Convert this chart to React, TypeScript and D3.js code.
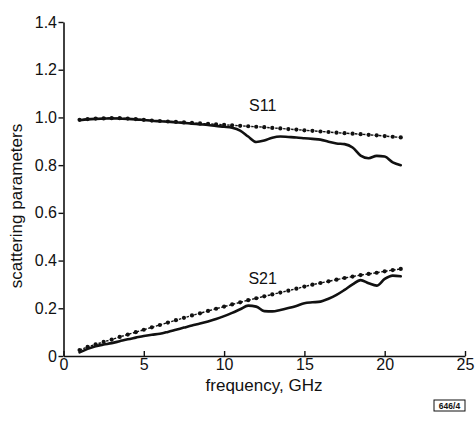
import React, { Component } from 'react';
import * as d3 from 'd3';

const frequency = d3.range(0, 41).map(i => 1 + i * 0.5);

const s11Measured = [
  0.988, 0.992, 0.994, 0.995, 0.996, 0.995, 0.994, 0.992, 0.989, 0.986,
  0.984, 0.982, 0.98, 0.977, 0.974, 0.971, 0.968, 0.964, 0.961, 0.957,
  0.945, 0.92, 0.897, 0.903, 0.915, 0.92, 0.918, 0.916, 0.913, 0.91,
  0.907, 0.898, 0.891, 0.888, 0.874, 0.84, 0.829, 0.839, 0.836, 0.812,
  0.8,
];

const s11Simulated = [
  0.99, 0.993, 0.995, 0.996, 0.997, 0.997, 0.995, 0.993, 0.99, 0.987,
  0.985, 0.983, 0.981, 0.979, 0.977, 0.975, 0.973, 0.971, 0.969, 0.967,
  0.965, 0.963, 0.961, 0.959, 0.956, 0.954, 0.951, 0.949, 0.946, 0.944,
  0.941, 0.939, 0.936, 0.934, 0.932, 0.93, 0.927, 0.925, 0.922, 0.919,
  0.916,
];

const s21Measured = [
  0.015, 0.03, 0.041, 0.048, 0.054, 0.062, 0.07, 0.077, 0.084, 0.089,
  0.093, 0.101, 0.11, 0.119, 0.128, 0.136, 0.145, 0.155, 0.167, 0.181,
  0.196, 0.211, 0.207, 0.188, 0.187, 0.193, 0.201, 0.21, 0.221, 0.225,
  0.228, 0.24, 0.256, 0.277, 0.3, 0.318, 0.305, 0.295, 0.323, 0.337,
  0.334,
];

const s21Simulated = [
  0.025, 0.038, 0.049, 0.059, 0.069, 0.08, 0.09, 0.1, 0.11, 0.12,
  0.13, 0.14, 0.15, 0.16, 0.17, 0.179, 0.189, 0.198, 0.207, 0.216,
  0.225, 0.234, 0.242, 0.25, 0.258, 0.266, 0.274, 0.282, 0.291, 0.299,
  0.306, 0.313, 0.32, 0.327, 0.333, 0.339, 0.344, 0.349, 0.355, 0.36,
  0.365,
];

const xTicks = [0, 5, 10, 15, 20, 25];
const yTicks = [0, 0.2, 0.4, 0.6, 0.8, 1.0, 1.2, 1.4];

const curveLabels = [
  { text: 'S11', f: 12.4, v: 1.025 },
  { text: 'S21', f: 12.4, v: 0.3 },
];

const FONT = '"Liberation Sans", Arial, Helvetica, sans-serif';

export default class App extends Component {
  static defaultProps = {
    width: 475,
    height: 423,
  };

  constructor(props) {
    super(props);
    this.xScale = d3.scaleLinear().domain([0, 25]).range([63.5, 465]);
    this.yScale = d3.scaleLinear().domain([0, 1.4]).range([356, 22]);
  }

  componentDidMount() {
    const xAxis = d3
      .axisBottom(this.xScale)
      .tickValues(xTicks)
      .tickSizeInner(-5)
      .tickSizeOuter(0)
      .tickPadding(2.5);
    const yAxis = d3
      .axisLeft(this.yScale)
      .tickValues(yTicks)
      .tickSizeInner(5)
      .tickSizeOuter(0)
      .tickPadding(1.5)
      .tickFormat(d => (d === 0 ? '0' : d3.format('.1f')(d)));

    const styleAxis = g => {
      g.attr('font-family', FONT).attr('font-size', 16);
      g.selectAll('path').attr('stroke', '#111').attr('stroke-width', 1.6);
      g.selectAll('line').attr('stroke', '#111').attr('stroke-width', 1.4);
      g.selectAll('text').attr('fill', '#111');
    };

    d3.select(this.xAxisG).call(xAxis).call(styleAxis);
    d3.select(this.yAxisG).call(yAxis).call(styleAxis);
  }

  renderSimulated(values, key) {
    const points = frequency.map((f, i) => [this.xScale(f), this.yScale(values[i])]);
    const line = d3.line().curve(d3.curveLinear);
    return (
      <g key={key}>
        <path
          d={line(points)}
          fill="none"
          stroke="#111"
          strokeWidth={1.4}
          strokeDasharray="2.5,1.5"
        />
        {points.map((p, i) =>
          <circle key={i} cx={p[0]} cy={p[1]} r={2.1} fill="#111" />,
        )}
      </g>
    );
  }

  renderMeasured(values, key) {
    const line = d3
      .line()
      .x((d, i) => this.xScale(frequency[i]))
      .y(d => this.yScale(d))
      .curve(d3.curveMonotoneX);
    return (
      <path
        key={key}
        d={line(values)}
        fill="none"
        stroke="#111"
        strokeWidth={2.6}
        strokeLinejoin="round"
        strokeLinecap="round"
      />
    );
  }

  render() {
    const { width, height } = this.props;
    return (
      <svg
        width={width}
        height={height}
        style={{ position: 'absolute', left: 0, top: 0, background: '#fff' }}
      >
        <rect x="0" y="0" width={width} height={height} fill="#fff" />
        {this.renderSimulated(s11Simulated, 's11s')}
        {this.renderSimulated(s21Simulated, 's21s')}
        {this.renderMeasured(s11Measured, 's11m')}
        {this.renderMeasured(s21Measured, 's21m')}
        <g
          ref={g => {
            this.xAxisG = g;
          }}
          transform={`translate(0,${this.yScale(0)})`}
        />
        <g
          ref={g => {
            this.yAxisG = g;
          }}
          transform={`translate(${this.xScale(0)},0)`}
        />
        {curveLabels.map(l =>
          <text
            key={l.text}
            x={this.xScale(l.f)}
            y={this.yScale(l.v)}
            fontFamily={FONT}
            fontSize={16}
            fill="#111"
            textAnchor="middle"
          >
            {l.text}
          </text>,
        )}
        <text
          x={264}
          y={391}
          fontFamily={FONT}
          fontSize={17}
          fill="#111"
          textAnchor="middle"
        >
          frequency, GHz
        </text>
        <text
          transform="translate(22,206) rotate(-90)"
          fontFamily={FONT}
          fontSize={17}
          fill="#111"
          textAnchor="middle"
        >
          scattering parameters
        </text>
        <rect
          x={434}
          y={400}
          width={31}
          height={11}
          fill="none"
          stroke="#111"
          strokeWidth={1}
        />
        <text
          x={449.5}
          y={409}
          fontFamily={FONT}
          fontSize={8.5}
          fontWeight="bold"
          fill="#111"
          textAnchor="middle"
        >
          646/4
        </text>
      </svg>
    );
  }
}
